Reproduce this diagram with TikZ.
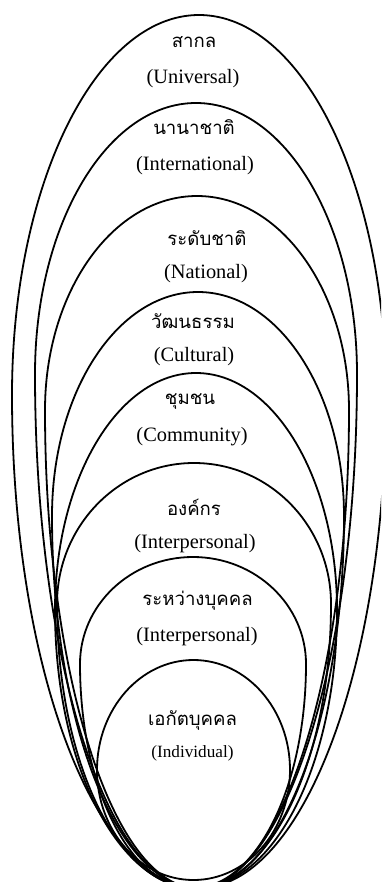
\documentclass[tikz,border=0pt]{standalone}
\usepackage{fontspec}
\setmainfont{Liberation Serif}
\newfontfamily\thaifont[Script=Thai]{Loma}
\begin{document}
\begin{tikzpicture}[x=0.5pt,y=-0.5pt,line width=0.9pt]
\tikzset{th/.style={font=\thaifont\fontsize{9.3}{11}\selectfont},
  en/.style={font=\fontsize{10.2}{12}\selectfont},
  ensmall/.style={font=\fontsize{8.6}{10}\selectfont}}
\useasboundingbox (0,0) rectangle (381,882);
\clip (0,0) rectangle (381,882);
% the layers, outside in
\draw (12,395) arc[start angle=180,end angle=360,x radius=187,y radius=380] arc[start angle=0,end angle=180,x radius=187,y radius=493];
\draw (35,374) arc[start angle=180,end angle=360,x radius=161,y radius=271] arc[start angle=0,end angle=180,x radius=161,y radius=514];
\draw (45,410) arc[start angle=180,end angle=360,x radius=152,y radius=214] arc[start angle=0,end angle=180,x radius=152,y radius=478];
\draw (52,516) arc[start angle=180,end angle=360,x radius=146,y radius=224] arc[start angle=0,end angle=180,x radius=146,y radius=372];
\draw (55,610) arc[start angle=180,end angle=360,x radius=141,y radius=237] arc[start angle=0,end angle=180,x radius=141,y radius=278];
\draw (57,604) arc[start angle=180,end angle=360,x radius=137,y radius=141] arc[start angle=0,end angle=180,x radius=137,y radius=284];
\draw (80,664) arc[start angle=180,end angle=360,x radius=113,y radius=107] arc[start angle=0,end angle=180,x radius=113,y radius=224];
\draw (97,770) arc[start angle=180,end angle=360,x radius=96.5,y radius=110] arc[start angle=0,end angle=180,x radius=96.5,y radius=110];
% labels
\node[th] (univ-th) at (194,42) {สากล};
\node[en] (univ-en) at (193,79) {(Universal)};
\node[th] (intl-th) at (194,127) {นานาชาติ};
\node[en] (intl-en) at (195,166) {(International)};
\node[th] (natl-th) at (207,238) {ระดับชาติ};
\node[en] (natl-en) at (206,274) {(National)};
\node[th] (cult-th) at (193,321) {วัฒนธรรม};
\node[en] (cult-en) at (194,357) {(Cultural)};
\node[th] (comm-th) at (190,402) {ชุมชน};
\node[en] (comm-en) at (192,437) {(Community)};
\node[th] (org-th) at (194,507) {องค์กร};
\node[en] (org-en) at (195,544) {(Interpersonal)};
\node[th] (inter-th) at (197.5,601) {ระหว่างบุคคล};
\node[en] (inter-en) at (197,637) {(Interpersonal)};
\node[th] (indiv-th) at (192.5,720) {เอกัตบุคคล};
\node[ensmall] (indiv-en) at (192.5,753) {(Individual)};
\end{tikzpicture}
\end{document}
